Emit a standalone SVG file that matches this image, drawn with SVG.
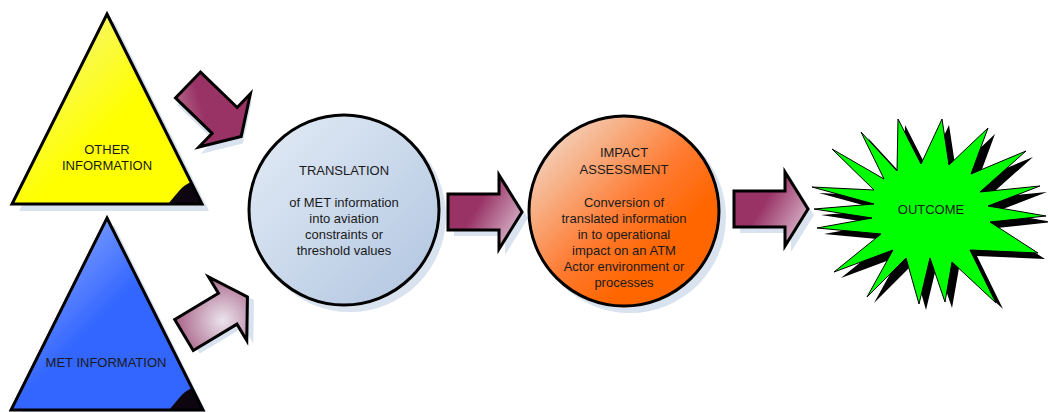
<svg xmlns="http://www.w3.org/2000/svg" width="1048" height="412" viewBox="0 0 1048 412">
  <defs>
    <style>
      .lbl { font-family: "Liberation Sans", Arial, sans-serif; font-size: 13px; fill: #1a1a1a; text-anchor: middle; }
      .edge { stroke: #000; stroke-width: 3; stroke-linejoin: miter; }
      .shadow { fill: #d9e2ef; }
      .corner { fill: #0d0610; }
    </style>
    <linearGradient id="gYellow" x1="0" y1="0" x2="1" y2="1">
      <stop offset="0" stop-color="#f2f2a0"/>
      <stop offset="0.55" stop-color="#ffff00"/>
      <stop offset="1" stop-color="#ffff00"/>
    </linearGradient>
    <linearGradient id="gBlue" x1="0" y1="0" x2="1" y2="1">
      <stop offset="0" stop-color="#a6bcff"/>
      <stop offset="0.5" stop-color="#3366ff"/>
      <stop offset="1" stop-color="#3366ff"/>
    </linearGradient>
    <linearGradient id="gTrans" x1="0" y1="0" x2="1" y2="1">
      <stop offset="0" stop-color="#e4ecf6"/>
      <stop offset="1" stop-color="#b0c5e0"/>
    </linearGradient>
    <linearGradient id="gImpact" x1="0.1" y1="0.1" x2="0.9" y2="0.9">
      <stop offset="0" stop-color="#f2d4c0"/>
      <stop offset="0.5" stop-color="#ff7a30"/>
      <stop offset="0.75" stop-color="#ff6600"/>
      <stop offset="1" stop-color="#ff6600"/>
    </linearGradient>
    <linearGradient id="gArrow" x1="0" y1="0.3" x2="1" y2="0.9">
      <stop offset="0" stop-color="#993366"/>
      <stop offset="0.35" stop-color="#993366"/>
      <stop offset="1" stop-color="#e2cadb"/>
    </linearGradient>
    <linearGradient id="gArrowDark" x1="0" y1="1" x2="0.6" y2="0">
      <stop offset="0" stop-color="#c4899f"/>
      <stop offset="0.45" stop-color="#993366"/>
      <stop offset="1" stop-color="#993366"/>
    </linearGradient>
    <radialGradient id="gArrowLight" cx="0.55" cy="0.6" r="0.6">
      <stop offset="0" stop-color="#ebe4ee"/>
      <stop offset="1" stop-color="#ac6a8d"/>
    </radialGradient>
    <path id="arrowShape" d="M0,-18 L51,-18 L51,-37 L74,0 L51,37 L51,18 L0,18 Z"/>
  </defs>

  <rect width="1048" height="412" fill="#ffffff"/>

  <!-- connectors: block arrows -->
  <g id="connectors">
    <g transform="translate(188,85) rotate(44)">
      <use href="#arrowShape" class="shadow" transform="translate(6,4)"/>
      <use href="#arrowShape" class="edge" fill="url(#gArrowDark)"/>
    </g>
    <g transform="translate(184,335) rotate(-31)">
      <use href="#arrowShape" class="shadow" transform="translate(4,6)"/>
      <use href="#arrowShape" class="edge" fill="url(#gArrowLight)"/>
    </g>
    <g transform="translate(448,212)">
      <use href="#arrowShape" class="shadow" transform="translate(6,6)"/>
      <use href="#arrowShape" class="edge" fill="url(#gArrow)"/>
    </g>
    <g transform="translate(734,209)">
      <use href="#arrowShape" class="shadow" transform="translate(6,6)"/>
      <use href="#arrowShape" class="edge" fill="url(#gArrow)"/>
    </g>
  </g>

  <!-- source: other information -->
  <g id="node-other">
    <polygon class="shadow" points="114,21 209,211 19,211"/>
    <polygon points="107,14 202,204 12,204" fill="url(#gYellow)"/>
    <path class="corner" d="M168,204 L179,191 Q184,185 191,182 L202,204 Z"/>
    <polygon class="edge" points="107,14 202,204 12,204" fill="none"/>
    <text class="lbl" x="107" y="154">OTHER</text>
    <text class="lbl" x="107" y="170">INFORMATION</text>
  </g>

  <!-- source: MET information -->
  <g id="node-met">
    <polygon class="shadow" points="114,225 209,417 19,417"/>
    <polygon points="107,218 203,410 11,410" fill="url(#gBlue)"/>
    <path class="corner" d="M169,410 L180,397 Q185,391 192,388 L203,410 Z"/>
    <polygon class="edge" points="107,218 203,410 11,410" fill="none"/>
    <text class="lbl" x="106" y="367">MET INFORMATION</text>
  </g>

  <!-- process: translation -->
  <g id="node-translation">
    <circle class="shadow" cx="350" cy="216" r="96"/>
    <circle class="edge" cx="344" cy="210" r="95" fill="url(#gTrans)"/>
    <text class="lbl" x="344" y="175">TRANSLATION</text>
    <text class="lbl" x="344" y="207">of MET information</text>
    <text class="lbl" x="344" y="223">into aviation</text>
    <text class="lbl" x="344" y="239">constraints or</text>
    <text class="lbl" x="344" y="255">threshold values</text>
  </g>

  <!-- process: impact assessment -->
  <g id="node-impact">
    <circle class="shadow" cx="630" cy="217" r="96"/>
    <circle class="edge" cx="624" cy="211" r="95" fill="url(#gImpact)"/>
    <text class="lbl" x="624" y="157">IMPACT</text>
    <text class="lbl" x="624" y="174">ASSESSMENT</text>
    <text class="lbl" x="624" y="207">Conversion of</text>
    <text class="lbl" x="624" y="223">translated information</text>
    <text class="lbl" x="624" y="239">in to operational</text>
    <text class="lbl" x="624" y="255">impact on an ATM</text>
    <text class="lbl" x="624" y="271">Actor environment or</text>
    <text class="lbl" x="624" y="287">processes</text>
  </g>

  <!-- result: outcome burst with offset drop shadow -->
  <g id="node-outcome">
    <polygon transform="translate(7,6)" fill="#000"
      points="898,119 921,164 942,119 949,165 988,128 971,174 1026,151 980,192 1040,186 988,206 1046,216 990,222 1038,253 970,250 996,303 952,262 945,302 930,258 919,304 906,258 867,297 893,250 834,272 881,234 817,228 872,218 814,209 874,204 812,187 874,190 832,149 884,179 861,132 897,171"/>
    <polygon fill="#00ff00" stroke="#000" stroke-width="1"
      points="898,119 921,164 942,119 949,165 988,128 971,174 1026,151 980,192 1040,186 988,206 1046,216 990,222 1038,253 970,250 996,303 952,262 945,302 930,258 919,304 906,258 867,297 893,250 834,272 881,234 817,228 872,218 814,209 874,204 812,187 874,190 832,149 884,179 861,132 897,171"/>
    <text class="lbl" x="931" y="214">OUTCOME</text>
  </g>
</svg>
